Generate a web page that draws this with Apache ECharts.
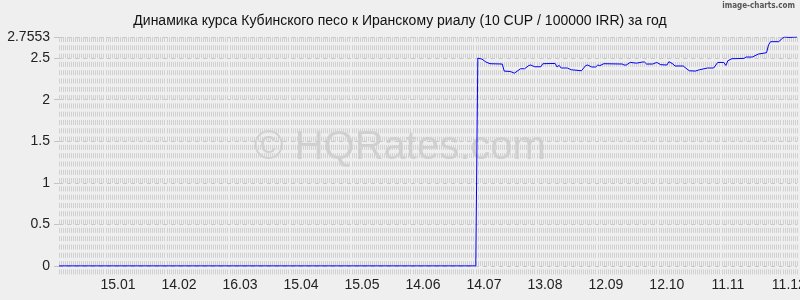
<!DOCTYPE html>
<html>
<head>
<meta charset="utf-8">
<script src="https://cdn.jsdelivr.net/npm/echarts@6/dist/echarts.min.js"></script>
<style>
html,body{margin:0;padding:0;background:#efefef;}
#chart{width:800px;height:300px;}
</style>
</head>
<body>
<div id="chart"></div>
<script>
// Chart data
const titleText = 'Динамика курса Кубинского песо к Иранскому риалу (10 CUP / 100000 IRR) за год';
const startDate = [2013, 12, 17];   // first day shown
const dayCount = 364;                // number of daily categories
const xTickLabels = ['15.01','14.02','16.03','15.04','15.05','14.06','14.07','13.08','12.09','12.10','11.11','11.12'];
const yTickValues = [0, 0.5, 1, 1.5, 2, 2.5, 2.7553];
// [day index, rate]
const rateDays = [0,205,206,208,210,212,218,219,222,224,227,229,231,232,234,237,238,244,245,246,247,250,252,257,259,260,262,264,265,266,268,277,278,279,281,284,287,288,289,292,294,296,299,300,302,303,307,310,313,315,319,322,324,327,328,329,331,337,338,341,344,348,349,350,354,356,357,359,363];
const rateValues = [0,0,2.50,2.49,2.454,2.434,2.43,2.345,2.34,2.32,2.373,2.373,2.41,2.418,2.397,2.397,2.434,2.437,2.394,2.414,2.382,2.382,2.361,2.349,2.41,2.418,2.394,2.394,2.418,2.41,2.434,2.43,2.418,2.418,2.45,2.44,2.454,2.454,2.43,2.43,2.449,2.422,2.418,2.458,2.43,2.406,2.406,2.349,2.345,2.361,2.382,2.382,2.449,2.449,2.413,2.47,2.494,2.498,2.514,2.514,2.55,2.566,2.66,2.699,2.699,2.743,2.7553,2.75,2.7553];

// build daily category labels
const categories = [];
const d0 = new Date(Date.UTC(startDate[0], startDate[1]-1, startDate[2]));
for (let i = 0; i < dayCount; i++) {
  const d = new Date(d0.getTime() + i*86400000);
  const dd = String(d.getUTCDate()).padStart(2,'0');
  const mm = String(d.getUTCMonth()+1).padStart(2,'0');
  categories.push(dd + '.' + mm);
}
const seriesData = rateDays.map((x, i) => [x, rateValues[i]]);

const chart = echarts.init(document.getElementById('chart'), null, {renderer:'canvas'});
chart.setOption({
  backgroundColor: '#efefef',
  animation: false,
  title: {
    text: titleText, left: 'center', top: 9,
    textStyle: {fontFamily: 'Liberation Sans, Arial, sans-serif', fontSize: 14, fontWeight: 'normal', color: '#111'}
  },
  graphic: [
    {type:'text', left: 'center', top: 128, z: 0, silent: true,
     style:{text:'© HQRates.com', font:'40px "Liberation Sans", Arial, sans-serif', fill:'rgba(0,0,0,0.13)'}},
    {type:'text', right: 5, top: 2, silent: true,
     style:{text:'image-charts.com', font:'bold 8px "DejaVu Sans Condensed", "DejaVu Sans", sans-serif', fill:'#555'}}
  ],
  grid: {left: 59, right: 3, top: 37, bottom: 25, containLabel: false, outerBoundsMode: 'none'},
  xAxis: {
    type: 'category',
    data: categories,
    boundaryGap: false,
    axisLine: {show: false},
    axisTick: {show: false},
    axisLabel: {
      interval: (i, v) => xTickLabels.includes(v),
      margin: 3, fontSize: 14, color: '#222',
      fontFamily: 'Liberation Sans, Arial, sans-serif',
      hideOverlap: false
    },
    splitLine: {show: true, interval: 0, lineStyle: {color: '#d0d0d0', width: 1, type: [5, 3.3]}}
  },
  yAxis: {
    type: 'value',
    min: -0.11, max: 2.7553,
    axisLine: {show: false},
    axisTick: {show: true, length: 5, customValues: yTickValues, lineStyle: {color: '#c4c4c4'}},
    axisLabel: {
      customValues: yTickValues,
      margin: 9, fontSize: 14, color: '#222',
      fontFamily: 'Liberation Sans, Arial, sans-serif',
      formatter: v => String(v)
    },
    splitLine: {show: true, lineStyle: {color: '#c6c6c6', width: 1, type: [4, 4]}}
  },
  series: [{
    type: 'line',
    data: seriesData,
    symbol: 'none',
    lineStyle: {color: '#0000ff', width: 1},
    z: 3
  }]
});
</script>
</body>
</html>
